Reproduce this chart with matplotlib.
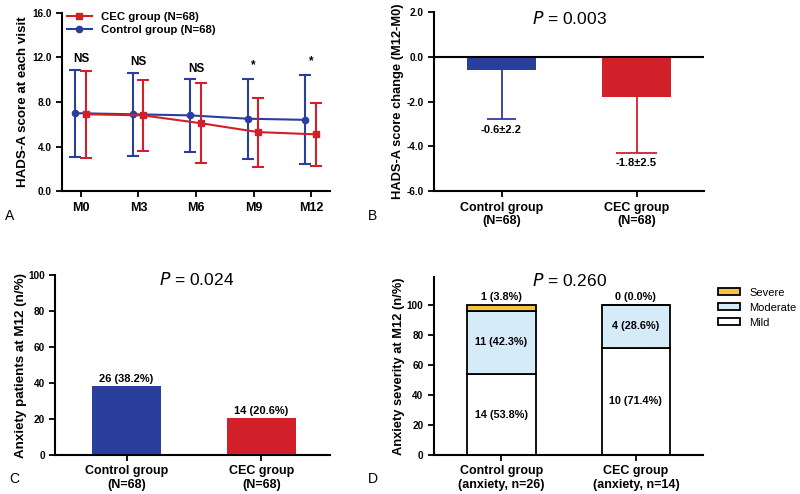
import numpy as np
import matplotlib
matplotlib.use("Agg")
import matplotlib.pyplot as plt
from matplotlib.lines import Line2D

plt.rcParams['font.family'] = ['Liberation Sans', 'DejaVu Sans']

# panel A: HADS-A score at each visit (mean, SD)
visits = ["M0", "M3", "M6", "M9", "M12"]
ctrl_mean = [7.0, 6.9, 6.8, 6.5, 6.4]
ctrl_sd = [3.9, 3.7, 3.3, 3.6, 4.0]
cec_mean = [6.9, 6.8, 6.1, 5.3, 5.1]
cec_sd = [3.9, 3.2, 3.6, 3.1, 2.8]
sig_marks = ["NS", "NS", "NS", "*", "*"]
sig_y = [11.9, 11.6, 11.0, 11.3, 11.7]

# panel B: change M12-M0
groups_n68 = ["Control group\n(N=68)", "CEC group\n(N=68)"]
change_mean = [-0.6, -1.8]
change_sd = [2.2, 2.5]

# panel C: anxiety patients at M12
anx_n = [26, 14]
anx_pct = [38.2, 20.6]

# panel D: anxiety severity at M12
groups_anx = ["Control group\n(anxiety, n=26)", "CEC group\n(anxiety, n=14)"]
mild_n = [14, 10]
mild_pct = [53.8, 71.4]
mod_n = [11, 4]
mod_pct = [42.3, 28.6]
sev_n = [1, 0]
sev_pct = [3.8, 0.0]

blue = "#2a3f9d"
red = "#d2202a"
yellow = "#f5c244"
lightblue = "#d5ebf7"

LAB_FS = 9.6


def style(ax):
    for s in ["top", "right"]:
        ax.spines[s].set_visible(False)
    for s in ["left", "bottom"]:
        ax.spines[s].set_linewidth(1.5)
    ax.tick_params(width=1.3, length=4)
    ax.tick_params(axis="x", labelsize=9)
    ax.tick_params(axis="y", labelsize=7.2)
    for lab in ax.get_xticklabels() + ax.get_yticklabels():
        lab.set_fontweight("bold")


fig = plt.figure(figsize=(8, 4.94), dpi=100)
axA = fig.add_axes([0.0775, 0.613, 0.335, 0.361])
axB = fig.add_axes([0.5425, 0.613, 0.3375, 0.363])
axC = fig.add_axes([0.069, 0.079, 0.3435, 0.364])
axD = fig.add_axes([0.5425, 0.079, 0.3365, 0.36])

# ---- A
x = np.arange(len(visits))
axA.errorbar(x + 0.08, cec_mean, yerr=cec_sd, color=red, marker="s", ms=4.5,
             lw=1.5, capsize=4, elinewidth=1.5, capthick=1.5, zorder=3)
axA.errorbar(x - 0.1, ctrl_mean, yerr=ctrl_sd, color=blue, marker="o", ms=4.5,
             lw=1.5, capsize=4, elinewidth=1.5, capthick=1.5, zorder=2)
for i, m in enumerate(sig_marks):
    axA.text(x[i], sig_y[i], m, ha="center", va="center", fontsize=8.5, fontweight="bold")
axA.set_xlim(-0.33, 4.33)
axA.set_ylim(0, 16)
axA.set_xticks(x)
axA.set_xticklabels(visits)
axA.set_yticks(np.arange(0, 16.1, 4))
axA.set_yticklabels([f"{v:.1f}" for v in np.arange(0, 16.1, 4)])
axA.set_ylabel("HADS-A score at each visit", fontsize=LAB_FS, fontweight="bold", labelpad=2)
handles = [Line2D([], [], color=red, marker="s", ms=4.5, lw=1.5),
           Line2D([], [], color=blue, marker="o", ms=4.5, lw=1.5)]
axA.legend(handles, ["CEC group (N=68)", "Control group (N=68)"],
           loc="upper left", frameon=False, handlelength=2.2,
           borderaxespad=0, bbox_to_anchor=(0.0, 1.03),
           prop={"weight": "bold", "size": 8.2}, labelspacing=0.3)
style(axA)

# ---- B
xb = np.arange(2)
cols = [blue, red]
cap_half = [0.105, 0.15]
axB.bar(xb, change_mean, width=0.51, color=cols, zorder=2)
for i in range(2):
    low = change_mean[i] - change_sd[i]
    axB.vlines(xb[i], low, change_mean[i], color=cols[i], lw=1.3, zorder=1)
    axB.hlines(low, xb[i] - cap_half[i], xb[i] + cap_half[i], color=cols[i], lw=1.3)
    axB.text(xb[i], low - 0.45, f"{change_mean[i]:.1f}\u00b1{change_sd[i]:.1f}",
             ha="center", va="center", fontsize=8, fontweight="bold")
axB.axhline(0, color="black", lw=1.5, zorder=3)
axB.set_xlim(-0.5, 1.5)
axB.set_ylim(-6, 2)
axB.set_xticks(xb)
axB.set_xticklabels(groups_n68)
axB.set_yticks(np.arange(-6, 2.1, 2))
axB.set_yticklabels([f"{v:.1f}" for v in np.arange(-6, 2.1, 2)])
axB.set_ylabel("HADS-A score change (M12-M0)", fontsize=9.3, fontweight="bold", labelpad=2)
axB.text(0.5, 0.965, "$\\mathit{P}$ = 0.003", transform=axB.transAxes,
         ha="center", va="center", fontsize=12.5)
style(axB)

# ---- C
axC.bar(xb, anx_pct, width=0.51, color=cols, zorder=2)
for i in range(2):
    axC.text(xb[i], anx_pct[i] + 1, f"{anx_n[i]} ({anx_pct[i]:.1f}%)",
             ha="center", va="bottom", fontsize=8, fontweight="bold")
axC.set_xlim(-0.53, 1.51)
axC.set_ylim(0, 100)
axC.set_xticks(xb)
axC.set_xticklabels(groups_n68)
axC.set_yticks(np.arange(0, 101, 20))
axC.set_ylabel("Anxiety patients at M12 (n/%)", fontsize=LAB_FS, fontweight="bold", labelpad=0.5)
axC.text(0.516, 0.975, "$\\mathit{P}$ = 0.024", transform=axC.transAxes,
         ha="center", va="center", fontsize=12.5)
style(axC)

# ---- D
ek = dict(width=0.51, edgecolor="black", linewidth=1.3, zorder=2)
axD.bar(xb, mild_pct, color="white", label="Mild", **ek)
axD.bar(xb, mod_pct, bottom=mild_pct, color=lightblue, label="Moderate", **ek)
axD.bar(xb, sev_pct, bottom=np.add(mild_pct, mod_pct), color=yellow, label="Severe", **ek)
for i in range(2):
    axD.text(xb[i], mild_pct[i] / 2, f"{mild_n[i]} ({mild_pct[i]:.1f}%)",
             ha="center", va="center", fontsize=7.8, fontweight="bold")
    axD.text(xb[i], mild_pct[i] + mod_pct[i] / 2, f"{mod_n[i]} ({mod_pct[i]:.1f}%)",
             ha="center", va="center", fontsize=7.8, fontweight="bold")
    axD.text(xb[i], 105, f"{sev_n[i]} ({sev_pct[i]:.1f}%)",
             ha="center", va="center", fontsize=7.8, fontweight="bold")
axD.set_xlim(-0.5, 1.5)
axD.set_ylim(0, 118.5)
axD.set_xticks(xb)
axD.set_xticklabels(groups_anx)
axD.set_yticks(np.arange(0, 101, 20))
axD.set_ylabel("Anxiety severity at M12 (n/%)", fontsize=9.3, fontweight="bold", labelpad=1.5)
axD.text(0.505, 0.98, "$\\mathit{P}$ = 0.260", transform=axD.transAxes,
         ha="center", va="center", fontsize=12.5)
h, l = axD.get_legend_handles_labels()
fig.legend(h[::-1], l[::-1], loc="upper left", bbox_to_anchor=(0.885, 0.438),
           frameon=False, fontsize=8, handlelength=2.0, handleheight=0.6,
           labelspacing=0.45)
style(axD)

for lbl, (px, py) in zip("ABCD", [(5, 216), (368, 216), (9, 479), (368, 479)]):
    fig.text(px / 800, 1 - py / 494, lbl, fontsize=10, ha="left", va="center")

fig.savefig("out.png", dpi=100)
